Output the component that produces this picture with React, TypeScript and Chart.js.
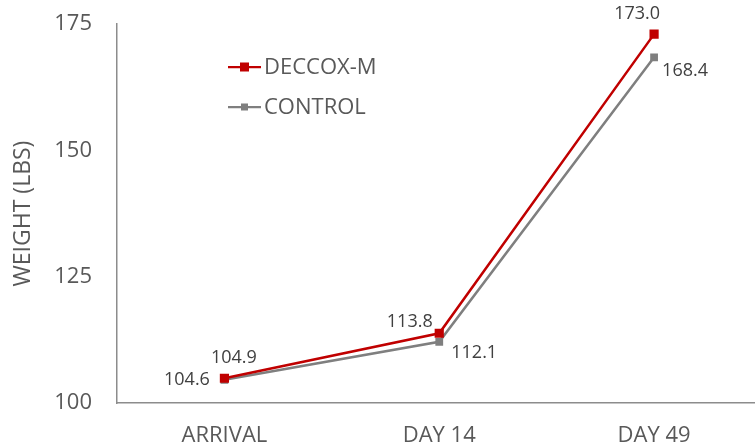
import React, { useEffect, useRef } from "react";
import { Chart, registerables } from "chart.js";

Chart.register(...registerables);

const categories = ["ARRIVAL", "DAY 14", "DAY 49"];
const deccoxValues = [104.9, 113.8, 173.0];
const controlValues = [104.6, 112.1, 168.4];
const yTicks = [100, 125, 150, 175];
const seriesNames = ["DECCOX-M", "CONTROL"];

const RED = "#C00000";
const GRAY = "#7F7F7F";
const TEXT = "#595959";
const LABEL = "#404040";
const FONT = "'Open Sans', 'Noto Sans', sans-serif";

// label placement per series/point: [align, dx, dy]
const labelPlacement: [CanvasTextAlign, number, number][][] = [
  [
    ["center", 9.5, -20],
    ["center", -29.5, -11],
    ["center", -17, -20],
  ],
  [
    ["right", -14.5, 0],
    ["left", 12, 11],
    ["left", 8, 14],
  ],
];

const labelPlugin = {
  id: "valueLabels",
  afterDatasetsDraw(chart: any) {
    const ctx = chart.ctx;
    ctx.save();
    ctx.font = `18px ${FONT}`;
    ctx.fillStyle = LABEL;
    chart.data.datasets.forEach((ds: any, di: number) => {
      const meta = chart.getDatasetMeta(di);
      meta.data.forEach((pt: any, i: number) => {
        const [align, dx, dy] = labelPlacement[di][i];
        ctx.textAlign = align;
        ctx.textBaseline = "middle";
        ctx.fillText(ds.data[i].toFixed(1), pt.x + dx, pt.y + dy);
      });
    });
    ctx.restore();
  },
};

const legendPlugin = {
  id: "customLegend",
  afterDraw(chart: any) {
    const ctx = chart.ctx;
    ctx.save();
    const items = [
      { name: seriesNames[0], color: RED, size: 9 },
      { name: seriesNames[1], color: GRAY, size: 7 },
    ];
    items.forEach((it, i) => {
      const y = 67 + i * 40;
      const x0 = 228;
      ctx.strokeStyle = it.color;
      ctx.lineWidth = 2.25;
      ctx.beginPath();
      ctx.moveTo(x0, y);
      ctx.lineTo(x0 + 33, y);
      ctx.stroke();
      ctx.fillStyle = it.color;
      ctx.fillRect(x0 + 16.5 - it.size / 2, y - it.size / 2, it.size, it.size);
      ctx.fillStyle = TEXT;
      ctx.font = `22px ${FONT}`;
      ctx.textAlign = "left";
      ctx.textBaseline = "middle";
      ctx.fillText(it.name, x0 + 36, y + 1);
    });
    ctx.restore();
  },
};

export default function App() {
  const ref = useRef<HTMLCanvasElement>(null);
  useEffect(() => {
    document.body.style.margin = "0";
    document.body.style.overflow = "hidden";
    const chart = new Chart(ref.current!, {
      type: "line",
      data: {
        labels: categories,
        datasets: [
          {
            label: seriesNames[0],
            data: deccoxValues,
            borderColor: RED,
            backgroundColor: RED,
            borderWidth: 2.5,
            pointStyle: "rect",
            pointRadius: 6.5,
            pointBorderWidth: 0,
            tension: 0,
          },
          {
            label: seriesNames[1],
            data: controlValues,
            borderColor: GRAY,
            backgroundColor: GRAY,
            borderWidth: 2.5,
            pointStyle: "rect",
            pointRadius: 5.5,
            pointBorderWidth: 0,
            tension: 0,
          },
        ],
      },
      options: {
        animation: false,
        responsive: false,
        layout: { padding: { top: 24, right: 0, left: 0, bottom: 0 } },
        plugins: {
          legend: { display: false },
          tooltip: { enabled: false },
        },
        scales: {
          x: {
            offset: true,
            grid: { display: false, drawTicks: false },
            border: { color: "#8C8C8C", width: 1.5 },
            ticks: {
              color: TEXT,
              font: { size: 22, family: FONT },
              padding: 20,
              maxRotation: 0,
            },
            afterFit: (s: any) => {
              s.height = 44;
              s.paddingLeft = 0;
              s.paddingRight = 0;
            },
          },
          y: {
            min: 100,
            max: 175,
            afterBuildTicks: (s: any) => {
              s.ticks = yTicks.map((v) => ({ value: v }));
            },
            grid: { display: false, drawTicks: false },
            border: { color: "#8C8C8C", width: 1.5 },
            ticks: {
              color: TEXT,
              font: { size: 22, family: FONT },
              padding: 25,
            },
            title: {
              display: true,
              text: "WEIGHT (LBS)",
              color: TEXT,
              font: { size: 23, family: FONT },
              padding: { top: 10, bottom: 0 },
            },
            afterFit: (s: any) => {
              s.width = 117;
              s.paddingTop = 0;
              s.paddingBottom = 0;
            },
          },
        },
      },
      plugins: [labelPlugin, legendPlugin],
    });
    return () => chart.destroy();
  }, []);
  return <canvas ref={ref} width={768} height={447} style={{ display: "block" }} />;
}
